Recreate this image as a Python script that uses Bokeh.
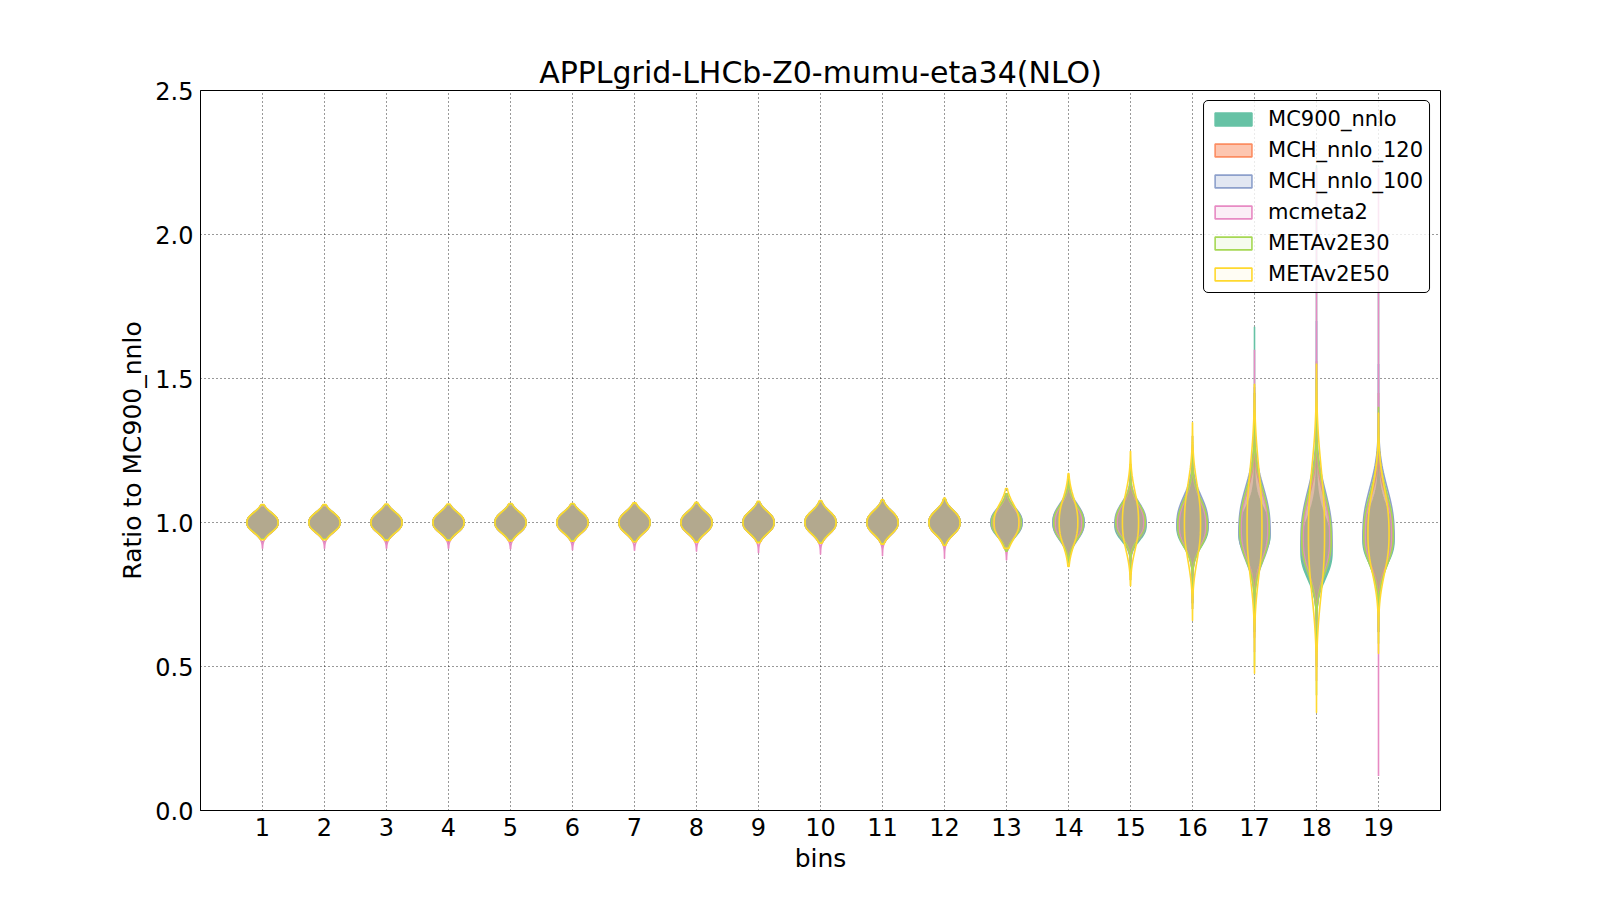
import numpy as np
from bokeh.plotting import figure
from bokeh.models import FixedTicker, Legend, LegendItem, Range1d, PrintfTickFormatter
from bokeh.embed import file_html
from bokeh.resources import INLINE

# ---------------- data ----------------
bins = [1, 2, 3, 4, 5, 6, 7, 8, 9, 10, 11, 12, 13, 14, 15, 16, 17, 18, 19]
y_ticks = [0.0, 0.5, 1.0, 1.5, 2.0, 2.5]
series_names = ["MC900_nnlo", "MCH_nnlo_120", "MCH_nnlo_100", "mcmeta2", "METAv2E30", "METAv2E50"]

# MC900_nnlo
MC900_center = [1.0, 1.0, 1.0, 1.0, 1.0, 1.0, 1.0, 1.0, 1.0, 1.0, 1.0, 1.0, 1.0, 1.0, 0.99, 0.985, 0.96, 0.9, 0.94]
MC900_sig_up = [0.032, 0.032, 0.033, 0.033, 0.034, 0.034, 0.035, 0.035, 0.036, 0.037, 0.038, 0.039, 0.045, 0.055, 0.058, 0.08, 0.085, 0.11, 0.1]
MC900_sig_dn = [0.032, 0.032, 0.033, 0.033, 0.034, 0.034, 0.035, 0.035, 0.036, 0.037, 0.038, 0.039, 0.045, 0.055, 0.05, 0.065, 0.07, 0.09, 0.08]
MC900_lo = [0.945, 0.945, 0.943, 0.943, 0.941, 0.94, 0.938, 0.937, 0.935, 0.933, 0.93, 0.925, 0.9, 0.87, 0.82, 0.72, 0.62, 0.55, 0.62]
MC900_hi = [1.057, 1.057, 1.059, 1.059, 1.061, 1.061, 1.063, 1.065, 1.069, 1.071, 1.075, 1.08, 1.1, 1.14, 1.15, 1.25, 1.68, 2.24, 1.8]
MC900_peak = [1.0, 1.0, 1.0, 1.0, 1.0, 1.0, 1.0, 1.0, 1.0, 1.0, 1.0, 1.0, 1.0, 1.0, 1.0, 1.0, 1.0, 1.0, 1.0]

# MCH_nnlo_120
MCH120_center = [1.0, 1.0, 1.0, 1.0, 1.0, 1.0, 1.0, 1.0, 1.0, 1.0, 1.0, 1.0, 1.0, 1.0, 0.995, 0.99, 0.97, 0.93, 0.955]
MCH120_sig_up = [0.032, 0.032, 0.033, 0.033, 0.034, 0.034, 0.035, 0.035, 0.036, 0.037, 0.038, 0.039, 0.046, 0.057, 0.062, 0.085, 0.12, 0.14, 0.12]
MCH120_sig_dn = [0.032, 0.032, 0.033, 0.033, 0.034, 0.034, 0.035, 0.035, 0.036, 0.037, 0.038, 0.039, 0.046, 0.056, 0.05, 0.068, 0.09, 0.1, 0.09]
MCH120_lo = [0.945, 0.945, 0.943, 0.943, 0.941, 0.94, 0.938, 0.937, 0.935, 0.933, 0.93, 0.925, 0.9, 0.87, 0.82, 0.72, 0.6, 0.5, 0.62]
MCH120_hi = [1.057, 1.057, 1.059, 1.059, 1.061, 1.061, 1.063, 1.065, 1.069, 1.071, 1.075, 1.08, 1.1, 1.14, 1.18, 1.26, 1.45, 1.56, 1.45]
MCH120_peak = [1.0, 1.0, 1.0, 1.0, 1.0, 1.0, 1.0, 1.0, 1.0, 1.0, 1.0, 1.0, 0.96, 0.96, 0.96, 0.96, 0.96, 0.96, 0.96]

# MCH_nnlo_100
MCH100_center = [1.0, 1.0, 1.0, 1.0, 1.0, 1.0, 1.0, 1.0, 1.0, 1.0, 1.0, 1.0, 1.0, 1.0, 1.0, 0.995, 0.975, 0.94, 0.96]
MCH100_sig_up = [0.033, 0.033, 0.034, 0.034, 0.035, 0.035, 0.036, 0.036, 0.037, 0.038, 0.039, 0.04, 0.048, 0.06, 0.064, 0.09, 0.14, 0.16, 0.15]
MCH100_sig_dn = [0.033, 0.033, 0.034, 0.034, 0.035, 0.035, 0.036, 0.036, 0.037, 0.038, 0.039, 0.04, 0.047, 0.058, 0.052, 0.07, 0.1, 0.11, 0.1]
MCH100_lo = [0.945, 0.945, 0.943, 0.943, 0.941, 0.94, 0.938, 0.937, 0.935, 0.933, 0.93, 0.925, 0.9, 0.87, 0.82, 0.72, 0.62, 0.5, 0.62]
MCH100_hi = [1.057, 1.057, 1.059, 1.059, 1.061, 1.061, 1.063, 1.065, 1.069, 1.071, 1.075, 1.08, 1.1, 1.14, 1.18, 1.27, 1.47, 1.7, 1.55]
MCH100_peak = [1.0, 1.0, 1.0, 1.0, 1.0, 1.0, 1.0, 1.0, 1.0, 1.0, 1.0, 1.0, 1.0, 1.0, 1.0, 1.0, 1.0, 1.0, 1.0]

# mcmeta2
mcmeta2_center = [1.0, 1.0, 1.0, 1.0, 1.0, 1.0, 1.0, 1.0, 1.0, 1.0, 1.0, 1.0, 1.0, 1.0, 1.0, 0.99, 0.975, 0.94, 0.955]
mcmeta2_sig_up = [0.032, 0.032, 0.033, 0.033, 0.034, 0.034, 0.035, 0.035, 0.036, 0.037, 0.038, 0.039, 0.047, 0.058, 0.064, 0.085, 0.13, 0.15, 0.14]
mcmeta2_sig_dn = [0.033, 0.033, 0.034, 0.034, 0.035, 0.035, 0.036, 0.036, 0.037, 0.038, 0.039, 0.04, 0.048, 0.058, 0.053, 0.072, 0.1, 0.11, 0.1]
mcmeta2_lo = [0.91, 0.91, 0.91, 0.91, 0.908, 0.905, 0.903, 0.9, 0.895, 0.89, 0.885, 0.875, 0.87, 0.86, 0.8, 0.7, 0.55, 0.45, 0.12]
mcmeta2_hi = [1.057, 1.057, 1.059, 1.059, 1.061, 1.061, 1.063, 1.065, 1.069, 1.071, 1.075, 1.08, 1.1, 1.14, 1.2, 1.3, 1.6, 2.23, 2.23]
mcmeta2_peak = [1.0, 1.0, 1.0, 1.0, 1.0, 1.0, 1.0, 1.0, 1.0, 1.0, 1.0, 1.0, 0.86, 0.86, 0.86, 0.86, 0.86, 0.86, 0.86]

# METAv2E30
E30_center = [1.0, 1.0, 1.0, 1.0, 1.0, 1.0, 1.0, 1.0, 1.0, 1.0, 1.0, 1.0, 1.0, 1.0, 1.0, 0.99, 0.975, 0.94, 0.955]
E30_sig_up = [0.032, 0.032, 0.033, 0.033, 0.034, 0.034, 0.035, 0.035, 0.036, 0.037, 0.038, 0.039, 0.047, 0.058, 0.063, 0.085, 0.13, 0.15, 0.14]
E30_sig_dn = [0.032, 0.032, 0.033, 0.033, 0.034, 0.034, 0.035, 0.035, 0.036, 0.037, 0.038, 0.039, 0.047, 0.057, 0.052, 0.07, 0.1, 0.11, 0.1]
E30_lo = [0.943, 0.943, 0.941, 0.941, 0.939, 0.938, 0.936, 0.935, 0.933, 0.931, 0.928, 0.923, 0.9, 0.86, 0.8, 0.7, 0.5, 0.4, 0.58]
E30_hi = [1.059, 1.059, 1.061, 1.061, 1.063, 1.063, 1.065, 1.067, 1.071, 1.073, 1.077, 1.082, 1.1, 1.15, 1.2, 1.3, 1.45, 1.5, 1.4]
E30_peak = [1.0, 1.0, 1.0, 1.0, 1.0, 1.0, 1.0, 1.0, 1.0, 1.0, 1.0, 1.0, 0.95, 0.95, 0.95, 0.95, 0.95, 0.95, 0.95]

# METAv2E50
E50_center = [1.0, 1.0, 1.0, 1.0, 1.0, 1.0, 1.0, 1.0, 1.0, 1.0, 1.0, 1.0, 1.0, 1.0, 1.0, 0.995, 0.98, 0.96, 0.96]
E50_sig_up = [0.033, 0.033, 0.034, 0.034, 0.035, 0.035, 0.036, 0.036, 0.037, 0.038, 0.039, 0.04, 0.06, 0.08, 0.1, 0.13, 0.2, 0.22, 0.15]
E50_sig_dn = [0.033, 0.033, 0.034, 0.034, 0.035, 0.035, 0.036, 0.036, 0.037, 0.038, 0.039, 0.04, 0.055, 0.075, 0.09, 0.12, 0.16, 0.2, 0.13]
E50_lo = [0.94, 0.94, 0.938, 0.938, 0.936, 0.935, 0.933, 0.932, 0.93, 0.928, 0.925, 0.92, 0.91, 0.847, 0.78, 0.66, 0.476, 0.34, 0.545]
E50_hi = [1.062, 1.062, 1.064, 1.064, 1.066, 1.066, 1.068, 1.07, 1.074, 1.076, 1.08, 1.085, 1.118, 1.17, 1.247, 1.347, 1.48, 1.55, 1.38]
E50_peak = [1.0, 1.0, 1.0, 1.0, 1.0, 1.0, 1.0, 1.0, 1.0, 1.0, 1.0, 1.0, 0.8, 0.6, 0.52, 0.52, 0.48, 0.52, 0.68]

series_data = [
    (MC900_center, MC900_sig_up, MC900_sig_dn, MC900_lo, MC900_hi, MC900_peak),
    (MCH120_center, MCH120_sig_up, MCH120_sig_dn, MCH120_lo, MCH120_hi, MCH120_peak),
    (MCH100_center, MCH100_sig_up, MCH100_sig_dn, MCH100_lo, MCH100_hi, MCH100_peak),
    (mcmeta2_center, mcmeta2_sig_up, mcmeta2_sig_dn, mcmeta2_lo, mcmeta2_hi, mcmeta2_peak),
    (E30_center, E30_sig_up, E30_sig_dn, E30_lo, E30_hi, E30_peak),
    (E50_center, E50_sig_up, E50_sig_dn, E50_lo, E50_hi, E50_peak),
]

# ---------------- style ----------------
series_colors = ["#66c2a5", "#fc8d62", "#8da0cb", "#e78ac3", "#a6d854", "#ffd92f"]
fill_alphas = [1.0, 0.5, 0.25, 0.15, 0.1, 0.05]
HALF_WIDTH = 0.25
SHAPE_EXP = 2.4
FONT = "DejaVu Sans"


def violin_outline(xc, c, su, sd, lo, hi, peak, n=400):
    y = np.linspace(lo, hi, n)
    s = np.where(y >= c, su, sd)
    d = np.abs(y - c) / s
    w = HALF_WIDTH * peak * np.exp(-0.5 * d ** SHAPE_EXP)
    xs = np.concatenate([xc - w, (xc + w)[::-1]])
    ys = np.concatenate([y, y[::-1]])
    return xs.tolist(), ys.tolist()


p = figure(
    frame_width=1240, frame_height=720,
    x_range=Range1d(0, 20), y_range=Range1d(0, 2.5),
    output_backend="svg", toolbar_location=None,
    min_border_left=200, min_border_top=90, min_border_right=120, min_border_bottom=60,
    title="APPLgrid-LHCb-Z0-mumu-eta34(NLO)",
)
p.background_fill_color = "white"
p.border_fill_color = "white"

p.title.text_font = FONT
p.title.text_font_size = "30px"
p.title.text_font_style = "normal"
p.title.text_color = "black"
p.title.align = "center"
p.title.standoff = 1

renderers = []
for (cen, su, sd, lo, hi, pk), col, fa in zip(series_data, series_colors, fill_alphas):
    xs_all, ys_all = [], []
    for i, b in enumerate(bins):
        xs, ys = violin_outline(b, cen[i], su[i], sd[i], lo[i], hi[i], pk[i])
        xs_all.append(xs)
        ys_all.append(ys)
    r = p.patches(xs_all, ys_all, fill_color=col, fill_alpha=fa,
                  line_color=col, line_width=1.6, line_alpha=1.0)
    renderers.append(r)

legend = Legend(
    items=[LegendItem(label=nm, renderers=[r]) for nm, r in zip(series_names, renderers)],
    location="top_right",
)
legend.label_text_font = FONT
legend.label_text_font_size = "21px"
legend.label_text_color = "black"
legend.glyph_width = 46
legend.glyph_height = 16
legend.label_standoff = 12
legend.label_height = 24
legend.padding = 6
legend.spacing = 7
legend.margin = 10
legend.border_line_color = "black"
legend.border_line_width = 1
legend.border_line_alpha = 1.0
legend.background_fill_alpha = 0.8
try:
    legend.border_radius = 5
except Exception:
    pass
p.add_layout(legend)

p.xaxis.ticker = FixedTicker(ticks=bins)
p.yaxis.ticker = FixedTicker(ticks=y_ticks)
p.yaxis.formatter = PrintfTickFormatter(format="%.1f")
p.xaxis.axis_label = "bins"
p.yaxis.axis_label = "Ratio to MC900_nnlo"
for ax in (p.xaxis, p.yaxis):
    ax.axis_label_text_font = FONT
    ax.axis_label_text_font_size = "25px"
    ax.axis_label_text_font_style = "normal"
    ax.axis_label_text_color = "black"
    ax.major_label_text_font = FONT
    ax.major_label_text_font_size = "24px"
    ax.major_label_text_color = "black"
    ax.major_tick_line_color = None
    ax.minor_tick_line_color = None
    ax.major_tick_out = 0
    ax.major_tick_in = 0
    ax.major_label_standoff = 7
    ax.axis_line_color = "black"
p.xaxis.axis_label_standoff = 5
p.yaxis.axis_label_standoff = 5

p.grid.grid_line_color = "black"
p.grid.grid_line_alpha = 0.8
p.grid.grid_line_dash = "1 3"
p.grid.grid_line_width = 1

p.outline_line_color = "black"
p.outline_line_width = 1
p.outline_line_alpha = 1.0

open("out.html", "w").write(file_html(p, INLINE))
